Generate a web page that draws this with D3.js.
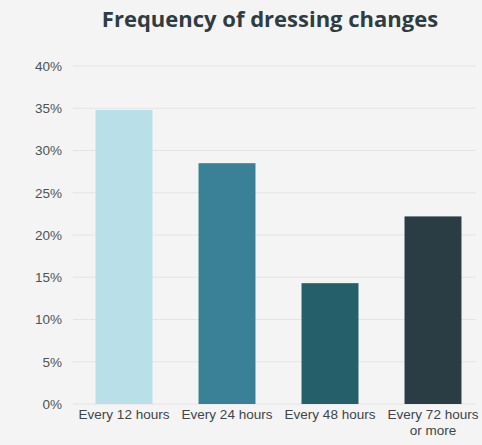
<!DOCTYPE html>
<html>
<head>
<meta charset="utf-8">
<script src="https://cdn.jsdelivr.net/npm/d3@7"></script>
<style>
  html, body { margin: 0; padding: 0; background: #f4f4f4; }
  svg { display: block; }
</style>
</head>
<body>
<svg id="chart" width="482" height="445"></svg>
<script>
// Share of respondents by how often dressings are changed
const categories = ["Every 12 hours", "Every 24 hours", "Every 48 hours", "Every 72 hours|or more"];
const values = [34.8, 28.5, 14.3, 22.2];
const barColors = ["#b9e0e8", "#3a8096", "#255f6a", "#2a3d45"];
const yTicks = [0, 5, 10, 15, 20, 25, 30, 35, 40];
const title = "Frequency of dressing changes";

const svg = d3.select("#chart");
const W = 482, H = 445;
const margin = { top: 66, right: 0, bottom: 41, left: 72.5 };

svg.append("rect").attr("width", W).attr("height", H).attr("fill", "#f4f4f4");

const x = d3.scaleBand()
  .domain(categories)
  .range([margin.left, margin.left + 103 * 4])
  .paddingInner(0.447)
  .paddingOuter(0.2235);

const y = d3.scaleLinear()
  .domain([0, 40])
  .range([H - margin.bottom, margin.top]);

// Horizontal gridlines
svg.append("g")
  .selectAll("line")
  .data(yTicks)
  .join("line")
  .attr("x1", margin.left)
  .attr("x2", 476)
  .attr("y1", d => y(d))
  .attr("y2", d => y(d))
  .attr("stroke", "#e4e4e4")
  .attr("stroke-width", 1);

// Y axis labels
const yAxis = d3.axisLeft(y)
  .tickValues(yTicks)
  .tickFormat(d => d + "%")
  .tickSize(0)
  .tickPadding(0);

svg.append("g")
  .attr("transform", "translate(62,0)")
  .call(yAxis)
  .call(g => g.select(".domain").remove())
  .call(g => g.selectAll("text")
    .attr("fill", "#4d5357")
    .style("font-family", "'Liberation Sans', Arial, sans-serif")
    .style("font-size", "13.5px"));

// Bars
svg.append("g")
  .selectAll("rect")
  .data(values)
  .join("rect")
  .attr("x", (d, i) => x(categories[i]))
  .attr("width", x.bandwidth())
  .attr("y", d => y(d))
  .attr("height", d => y(0) - y(d))
  .attr("fill", (d, i) => barColors[i]);

// Category labels (multi-line split on "|")
const xAxis = d3.axisBottom(x).tickSize(0).tickPadding(0).tickFormat("");
const xg = svg.append("g")
  .attr("transform", `translate(0,${y(0)})`)
  .call(xAxis)
  .call(g => g.select(".domain").remove());

xg.selectAll(".tick").each(function(d) {
  const lines = d.split("|");
  const t = d3.select(this).append("text")
    .attr("text-anchor", "middle")
    .attr("fill", "#3f4549")
    .style("font-family", "'Liberation Sans', Arial, sans-serif")
    .style("font-size", "13.5px");
  lines.forEach((ln, i) => {
    t.append("tspan").attr("x", 0).attr("y", 15 + i * 16).text(ln);
  });
});

// Title
svg.append("text")
  .attr("x", 270)
  .attr("y", 27)
  .attr("text-anchor", "middle")
  .attr("fill", "#2f3c42")
  .style("font-family", "'Open Sans', sans-serif")
  .style("font-weight", "700")
  .style("font-size", "22px")
  .text(title);
</script>
</body>
</html>
